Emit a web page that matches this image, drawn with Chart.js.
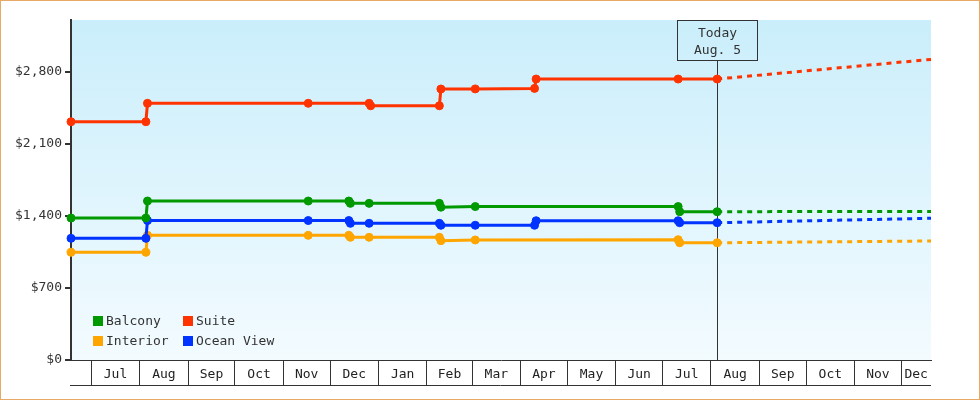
<!DOCTYPE html>
<html>
<head>
<meta charset="utf-8">
<script src="https://cdn.jsdelivr.net/npm/chart.js@4.4.1/dist/chart.umd.min.js"></script>
<style>
  html, body { margin: 0; padding: 0; background: #fff; }
  canvas { display: block; }
</style>
</head>
<body>
<canvas id="priceChart" width="980" height="400"></canvas>
<script>
// x range and the "today" marker
var rangeStart = '2023-06-18';
var rangeEnd = '2024-12-20';
var today = '2024-08-05';
var todayText = ['Today', 'Aug. 5'];

// month boxes under the x axis
var monthStarts = ['2023-07-01', '2023-08-01', '2023-09-01', '2023-10-01', '2023-11-01', '2023-12-01',
                   '2024-01-01', '2024-02-01', '2024-03-01', '2024-04-01', '2024-05-01', '2024-06-01',
                   '2024-07-01', '2024-08-01', '2024-09-01', '2024-10-01', '2024-11-01', '2024-12-01'];
var monthLabels = ['Jul', 'Aug', 'Sep', 'Oct', 'Nov', 'Dec', 'Jan', 'Feb', 'Mar',
                   'Apr', 'May', 'Jun', 'Jul', 'Aug', 'Sep', 'Oct', 'Nov', 'Dec'];

var yTicks = [0, 700, 1400, 2100, 2800];
var yMax = 3306;

// price history
var balconyDates = ['2023-06-18', '2023-08-05', '2023-08-06', '2023-11-17', '2023-12-13', '2023-12-14', '2023-12-26',
                    '2024-02-09', '2024-02-10', '2024-03-03', '2024-07-11', '2024-07-12', '2024-08-05'];
var balconyPrices = [1380, 1380, 1546, 1546, 1546, 1523, 1523, 1523, 1486, 1492, 1492, 1442, 1442];

var suiteDates = ['2023-06-18', '2023-08-05', '2023-08-06', '2023-11-17', '2023-12-26', '2023-12-27',
                  '2024-02-09', '2024-02-10', '2024-03-03', '2024-04-10', '2024-04-11', '2024-07-11', '2024-08-05'];
var suitePrices = [2317, 2317, 2496, 2496, 2496, 2472, 2472, 2635, 2636, 2641, 2732, 2732, 2732];

var interiorDates = ['2023-06-18', '2023-08-05', '2023-08-06', '2023-11-17', '2023-12-13', '2023-12-14', '2023-12-26',
                     '2024-02-09', '2024-02-10', '2024-03-03', '2024-07-11', '2024-07-12', '2024-08-05'];
var interiorPrices = [1047, 1047, 1212, 1212, 1212, 1193, 1193, 1193, 1160, 1167, 1170, 1140, 1140];

var oceanDates = ['2023-06-18', '2023-08-05', '2023-08-06', '2023-11-17', '2023-12-13', '2023-12-14', '2023-12-26',
                  '2024-02-09', '2024-02-10', '2024-03-03', '2024-04-10', '2024-04-11', '2024-07-11', '2024-07-12', '2024-08-05'];
var oceanPrices = [1183, 1183, 1356, 1356, 1356, 1329, 1329, 1329, 1310, 1310, 1310, 1354, 1354, 1335, 1335];

// forecast (dashed)
var forecastDates = ['2024-08-05', '2024-12-20'];
var balconyForecast = [1442, 1445];
var suiteForecast = [2732, 2923];
var interiorForecast = [1140, 1157];
var oceanForecast = [1335, 1378];

var colors = { balcony: '#009900', suite: '#FF3300', interior: '#FFA500', ocean: '#0033FF' };

function toDay(s) {
    return Date.parse(s) / 864e5;
}

function points(dates, values) {
    return dates.map(function(d, i){ return { x: toDay(d), y: values[i] }; });
}

// ticks on the x axis: an edge tick at each month start, a label tick in the middle of each month
var xTicks = [];
monthStarts.forEach(function(s, i){
    var a = toDay(s);
    var b = i + 1 < monthStarts.length ? toDay(monthStarts[i + 1]) : toDay(rangeEnd);
    xTicks.push({ value: a, edge: true, label: '' });
    xTicks.push({ value: (a + b) / 2, edge: false, label: monthLabels[i] });
});

function history(label, color, dates, values, order) {
    return {
        label: label,
        order: order,
        data: points(dates, values),
        borderColor: color,
        backgroundColor: color,
        borderWidth: 3,
        pointRadius: 4,
        pointBorderWidth: 1,
        pointBackgroundColor: color,
        pointBorderColor: color,
        tension: 0,
        clip: false
    };
}

function forecast(color, values) {
    return {
        label: '',
        forecast: true,
        order: 5,
        data: points(forecastDates, values),
        borderColor: color,
        borderWidth: 3,
        borderDash: [5, 5],
        pointRadius: 0,
        tension: 0,
        clip: false
    };
}

var fontFamily = '"DejaVu Sans Mono", monospace';
Chart.defaults.font.family = fontFamily;
Chart.defaults.font.size = 13;
Chart.defaults.color = '#333';

// background, today marker, legend and frame
var chartDecor = {
    id: 'chartDecor',
    beforeDraw: function(chart){
        var a = chart.chartArea, ctx = chart.ctx;
        var g = ctx.createLinearGradient(0, a.top, 0, a.bottom);
        g.addColorStop(0, '#CAEEFB');
        g.addColorStop(1, '#F3FBFF');
        ctx.save();
        ctx.fillStyle = g;
        ctx.fillRect(a.left, a.top, a.right - a.left, a.bottom - a.top);
        ctx.restore();
    },
    beforeDatasetsDraw: function(chart){
        var a = chart.chartArea, ctx = chart.ctx;
        var x = Math.round(chart.scales.x.getPixelForValue(toDay(today))) + 0.5;
        ctx.save();
        ctx.strokeStyle = '#333';
        ctx.lineWidth = 1;
        ctx.strokeRect(x - 40, a.top + 0.5, 80, 40);
        ctx.beginPath();
        ctx.moveTo(x, a.top + 40.5);
        ctx.lineTo(x, a.bottom);
        ctx.stroke();
        ctx.fillStyle = '#333';
        ctx.font = '13px ' + fontFamily;
        ctx.textAlign = 'center';
        ctx.textBaseline = 'middle';
        ctx.fillText(todayText[0], x, a.top + 13.5);
        ctx.fillText(todayText[1], x, a.top + 31);
        ctx.restore();
    },
    afterDraw: function(chart){
        var a = chart.chartArea, ctx = chart.ctx;
        ctx.save();
        // legend, two columns
        var items = chart.data.datasets.filter(function(d){ return !d.forecast; });
        ctx.font = '13px ' + fontFamily;
        ctx.textBaseline = 'middle';
        ctx.textAlign = 'left';
        items.forEach(function(d, i){
            var x = a.left + 22 + (i % 2) * 90;
            var y = a.bottom - 39 + Math.floor(i / 2) * 20;
            ctx.fillStyle = d.borderColor;
            ctx.fillRect(x, y - 5, 10, 10);
            ctx.fillStyle = '#333';
            ctx.fillText(d.label, x + 13, y + 0.5);
        });
        // bottom edge of the month boxes
        var xs = chart.scales.x;
        ctx.strokeStyle = '#333';
        ctx.lineWidth = 1;
        ctx.beginPath();
        ctx.moveTo(a.left - 1, xs.bottom + 0.5);
        ctx.lineTo(a.right, xs.bottom + 0.5);
        ctx.stroke();
        // outer frame
        ctx.strokeStyle = '#E8A866';
        ctx.strokeRect(0.5, 0.5, chart.width - 1, chart.height - 1);
        ctx.restore();
    }
};

new Chart(document.getElementById('priceChart'), {
    type: 'line',
    data: {
        datasets: [
            history('Balcony', colors.balcony, balconyDates, balconyPrices, 1),
            history('Suite', colors.suite, suiteDates, suitePrices, 0),
            history('Interior', colors.interior, interiorDates, interiorPrices, 3),
            history('Ocean View', colors.ocean, oceanDates, oceanPrices, 2),
            forecast(colors.balcony, balconyForecast),
            forecast(colors.suite, suiteForecast),
            forecast(colors.interior, interiorForecast),
            forecast(colors.ocean, oceanForecast)
        ]
    },
    options: {
        responsive: false,
        animation: false,
        devicePixelRatio: 1,
        layout: { padding: { top: 20, right: 49, bottom: 15, left: 0 } },
        plugins: {
            legend: { display: false },
            tooltip: { enabled: false }
        },
        scales: {
            x: {
                type: 'linear',
                min: toDay(rangeStart),
                max: toDay(rangeEnd),
                afterBuildTicks: function(scale){
                    scale.ticks = xTicks.map(function(t){ return { value: t.value }; });
                },
                afterFit: function(scale){ scale.height = 25; },
                border: { display: true, color: '#333', width: 1 },
                grid: {
                    drawOnChartArea: false,
                    tickLength: 25,
                    lineWidth: 1,
                    color: function(ctx){
                        var t = xTicks[ctx.index];
                        return t && t.edge ? '#333' : 'rgba(0,0,0,0)';
                    }
                },
                ticks: {
                    autoSkip: false,
                    maxRotation: 0,
                    minRotation: 0,
                    padding: -18,
                    color: '#222',
                    callback: function(value, index){
                        return xTicks[index] ? xTicks[index].label : '';
                    }
                }
            },
            y: {
                min: 0,
                max: yMax,
                afterBuildTicks: function(scale){
                    scale.ticks = yTicks.map(function(v){ return { value: v }; });
                },
                afterFit: function(scale){ scale.width = 71; },
                border: { display: true, color: '#333', width: 2 },
                grid: {
                    drawOnChartArea: false,
                    tickLength: 6,
                    lineWidth: 2,
                    color: '#333'
                },
                ticks: {
                    padding: 3,
                    color: '#333',
                    callback: function(value){
                        return '$' + value.toLocaleString('en-US');
                    }
                }
            }
        }
    },
    plugins: [chartDecor]
});
</script>
</body>
</html>
